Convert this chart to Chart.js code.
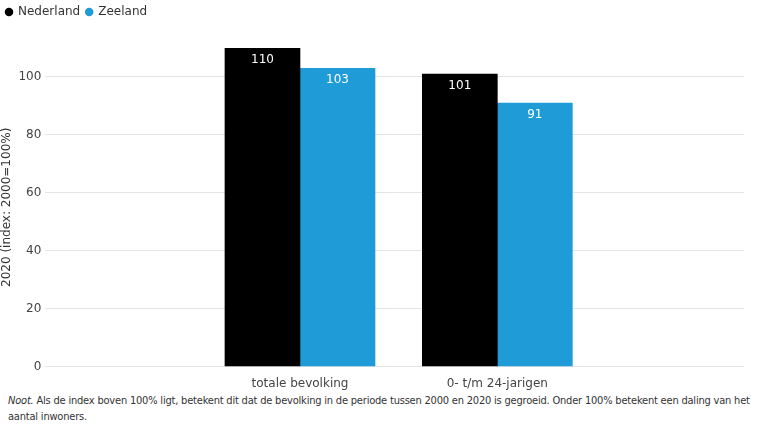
<!DOCTYPE html>
<html><head><meta charset="utf-8">
<script src="https://cdn.jsdelivr.net/npm/chart.js@4"></script>
<style>
html,body{margin:0;padding:0;background:#fff;width:768px;height:432px;overflow:hidden}
#wrap{position:relative;width:768px;height:393px}
#note{font-family:"DejaVu Sans Condensed","Liberation Sans",sans-serif;font-size:11px;letter-spacing:-0.2px;color:#333;padding:0 14px 0 8px;line-height:16px}
</style></head><body>
<div id="wrap"><canvas id="c"></canvas></div>
<div id="note"><i>Noot.</i> Als de index boven 100% ligt, betekent dit dat de bevolking in de periode tussen 2000 en 2020 is gegroeid. Onder 100% betekent een daling van het aantal inwoners.</div>
<script>
const categories = ['', '', 'totale bevolking', '', '0- t/m 24-jarigen', '', ''];
const nederland = [null, null, 110, null, 101, null, null];
const zeeland = [null, null, 103, null, 91, null, null];
const yTicks = [0, 20, 40, 60, 80, 100];
const F = "DejaVu Sans";
new Chart(document.getElementById('c'), {
  type: 'bar',
  data: { labels: categories, datasets: [
    { label: 'Nederland', data: nederland, backgroundColor: '#000000', borderWidth: 0 },
    { label: 'Zeeland', data: zeeland, backgroundColor: '#1f9bd7', borderWidth: 0 }
  ]},
  options: {
    responsive: true, maintainAspectRatio: false, animation: false,
    layout: { padding: { left: 0, right: 24, top: 0, bottom: 0 } },
    datasets: { bar: { barThickness: 75, skipNull: false } },
    plugins: {
      legend: { position: 'top', align: 'start',
        labels: { usePointStyle: true, pointStyle: 'circle', boxWidth: 6, boxHeight: 6, padding: 6, color: '#333', font: { family: F, size: 12 } } },
      tooltip: { enabled: false }
    },
    scales: {
      x: { grid: { display: false }, border: { display: false },
           ticks: { color: '#444', font: { family: F, size: 12 }, autoSkip: false, maxRotation: 0, padding: 2 } },
      y: { min: 0, max: 110,
           afterBuildTicks: s => { s.ticks = yTicks.map(v => ({ value: v })); },
           grid: { color: '#e4e4e4', lineWidth: 1, borderDash: [1, 2] }, border: { display: false },
           ticks: { color: '#444', font: { family: F, size: 12 }, padding: 4 },
           title: { display: true, text: '2020 (index: 2000=100%)', color: '#333', font: { family: F, size: 12 }, padding: 0 } }
    }
  },
  plugins: [{
    id: 'legendSpace',
    beforeInit(chart) {
      const orig = chart.legend && chart.legend.fit;
    },
    afterInit(chart) {
      const lg = chart.legend; const fit = lg.fit;
      lg.fit = function () { fit.call(this); this.height += 20; };
    }
  }, {
    id: 'vals',
    afterDatasetsDraw(chart) {
      const ctx = chart.ctx;
      ctx.save();
      ctx.fillStyle = '#fff'; ctx.font = '12px ' + F; ctx.textAlign = 'center'; ctx.textBaseline = 'top';
      chart.data.datasets.forEach((ds, di) => {
        chart.getDatasetMeta(di).data.forEach((el, i) => {
          const v = ds.data[i]; if (v == null) return;
          ctx.fillText(String(v), el.x, el.y + 6);
        });
      });
      ctx.restore();
    }
  }]
});
</script></body></html>
